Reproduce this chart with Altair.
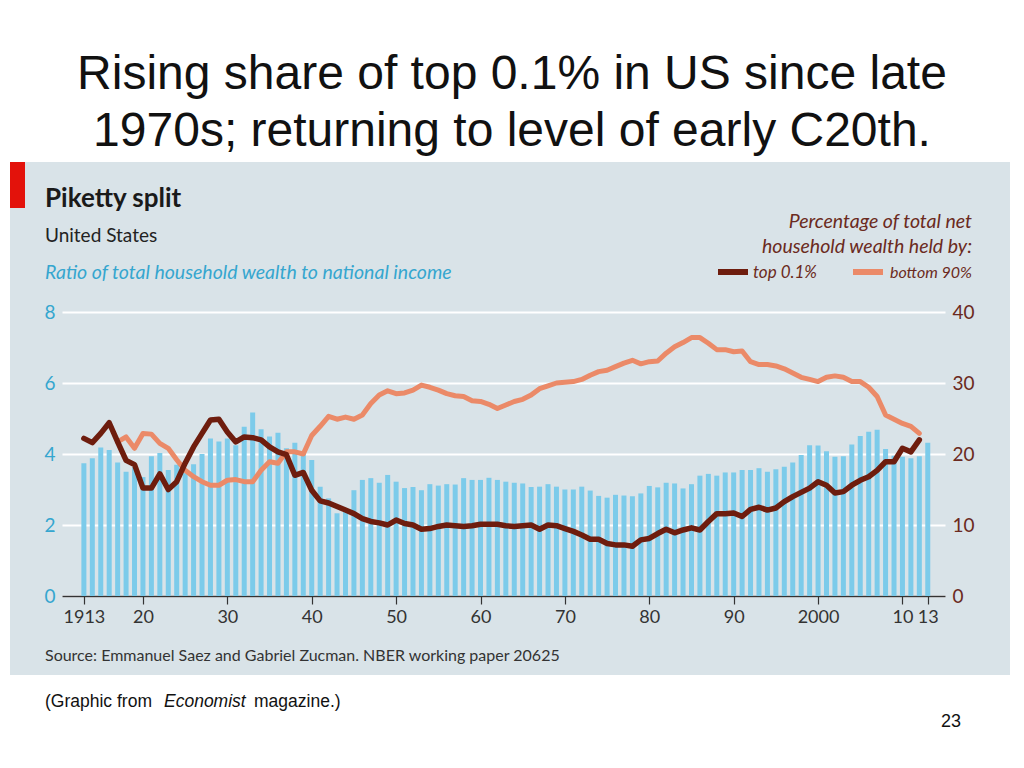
import altair as alt
import pandas as pd

# ---------------- data ----------------
years_bars = list(range(1913, 2014))
wealth_ratio = [
    3.74, 3.88, 4.18, 4.11, 3.76, 3.50, 3.62,
    3.35, 3.94, 4.03, 3.55, 3.70, 3.46, 3.71, 4.00, 4.44, 4.35,
    4.44, 4.25, 4.77, 5.17, 4.70, 4.49, 4.60, 4.16, 4.32, 4.02,
    3.83, 3.08, 2.75, 2.33, 2.40, 2.98, 3.27, 3.32, 3.19, 3.41,
    3.22, 3.04, 3.07, 2.98, 3.15, 3.11, 3.15, 3.14, 3.32, 3.27,
    3.27, 3.33, 3.27, 3.22, 3.19, 3.17, 3.07, 3.08, 3.15, 3.08,
    3.00, 3.00, 3.08, 2.97, 2.82, 2.77, 2.85, 2.83, 2.81, 2.89,
    3.10, 3.06, 3.19, 3.17, 3.03, 3.15, 3.39, 3.44, 3.39, 3.48,
    3.48, 3.55, 3.55, 3.60, 3.50, 3.57, 3.64, 3.76, 3.97, 4.25,
    4.24, 4.08, 3.92, 3.94, 4.27, 4.51, 4.63, 4.68, 4.14, 3.95,
    3.92, 3.88, 3.94, 4.32,
]

years_top = list(range(1913, 2013))
top_01 = [
    22.2, 21.6, 22.9, 24.4, 21.7, 19.1, 18.5,
    15.2, 15.2, 17.2, 15.0, 16.1, 18.7, 21.0, 22.9, 24.8, 24.9,
    23.1, 21.7, 22.4, 22.3, 22.0, 21.0, 20.3, 19.9, 17.0, 17.4,
    14.9, 13.4, 13.1, 12.6, 12.1, 11.6, 10.9, 10.5, 10.3, 10.0,
    10.7, 10.2, 10.0, 9.4, 9.5, 9.8, 10.0, 9.9, 9.8, 9.9,
    10.1, 10.1, 10.1, 9.9, 9.8, 9.9, 10.0, 9.4, 10.0, 9.9,
    9.5, 9.1, 8.6, 8.0, 8.0, 7.4, 7.2, 7.2, 7.0, 7.9,
    8.1, 8.8, 9.4, 8.9, 9.3, 9.6, 9.3, 10.5, 11.6, 11.6,
    11.7, 11.2, 12.2, 12.5, 12.1, 12.4, 13.3, 14.0, 14.6, 15.2,
    16.1, 15.6, 14.5, 14.7, 15.6, 16.3, 16.8, 17.7, 18.9, 18.9,
    20.8, 20.3, 22.0,
]

years_bottom = list(range(1917, 2013))
bottom_90 = [
    21.7, 22.4, 20.8,
    22.9, 22.8, 21.5, 20.8, 19.2, 17.7, 16.8, 16.1, 15.6, 15.6,
    16.3, 16.4, 16.1, 16.1, 17.7, 18.9, 18.7, 20.3, 20.3, 20.0,
    22.6, 23.9, 25.3, 24.9, 25.2, 24.9, 25.5, 27.1, 28.3, 28.9,
    28.5, 28.6, 29.0, 29.7, 29.4, 29.0, 28.5, 28.2, 28.1, 27.5,
    27.4, 27.0, 26.4, 26.9, 27.4, 27.7, 28.3, 29.2, 29.6, 30.0,
    30.1, 30.2, 30.5, 31.1, 31.6, 31.8, 32.3, 32.8, 33.2, 32.7,
    33.0, 33.1, 34.2, 35.1, 35.7, 36.4, 36.4, 35.6, 34.7, 34.7,
    34.4, 34.5, 33.0, 32.6, 32.6, 32.4, 32.0, 31.4, 30.8, 30.5,
    30.2, 30.8, 31.0, 30.8, 30.2, 30.2, 29.4, 28.1, 25.5, 24.9,
    24.3, 23.9, 22.9,
]

x_ticks = [1913, 1920, 1930, 1940, 1950, 1960, 1970, 1980, 1990, 2000, 2010, 2013]
left_ticks = [0, 2, 4, 6, 8]
right_ticks = [0, 10, 20, 30, 40]

# ---------------- styles ----------------
PANEL = "#d9e3e8"
BAR = "#7ccbea"
DARK = "#6e1d0e"
ORANGE = "#eb8a68"
CYAN = "#35a6cf"
BROWN = "#6b2a20"
ECON = "Lato"
SLIDE = "Liberation Sans"

bars_df = pd.DataFrame({"year": years_bars, "ratio": wealth_ratio})
top_df = pd.DataFrame({"year": years_top, "share": top_01})
bot_df = pd.DataFrame({"year": years_bottom, "share": bottom_90})
one = pd.DataFrame({"k": [0]})

x_enc = alt.X(
    "year:Q",
    scale=alt.Scale(domain=[1911.0, 2014.45], nice=False, zero=False),
    axis=alt.Axis(
        values=x_ticks, format="d", title=None, grid=False,
        labelExpr="datum.value == 1913 || datum.value == 2000 ? datum.label : slice(datum.label, 2)",
        labelOverlap=False, labelFlush=False,
        labelFont=ECON, labelFontSize=18, labelColor="#333333", labelPadding=4,
        tickColor="#333333", tickSize=8, tickWidth=1.2,
        domainColor="#333333", domainWidth=1.5,
    ),
)


def txt(s, x, y, size, color, font=ECON, weight="normal", style="normal", align="left"):
    return alt.Chart(one).mark_text(
        text=s, align=align, baseline="alphabetic", fontSize=size, font=font,
        fontWeight=weight, fontStyle=style, color=color,
    ).encode(x=alt.value(x), y=alt.value(y))


def box(x1, x2, y1, y2, color):
    return alt.Chart(one).mark_rect(color=color).encode(
        x=alt.value(x1), x2=alt.value(x2), y=alt.value(y1), y2=alt.value(y2)
    )


def swatch(x1, x2, y, color, w):
    return alt.Chart(one).mark_rule(color=color, strokeWidth=w).encode(
        x=alt.value(x1), x2=alt.value(x2), y=alt.value(y)
    )


# plot-area origin sits at page (62, 312)
white_top = box(-70, 970, -320, -150, "white")
white_bot = box(-70, 970, 363, 470, "white")
white_left = box(-70, -52, -150, 363, "white")
white_right = box(948, 970, -150, 363, "white")
red_tab = box(-52, -37, -150, -104, "#e3120b")

texts = [
    txt("Rising share of top 0.1% in US since late", 450, -223, 48, "#111111", SLIDE, align="center"),
    txt("1970s; returning to level of early C20th.", 450, -166, 48, "#111111", SLIDE, align="center"),
    txt("Piketty split", -17, -105, 26, "#1a1a1a", weight="bold"),
    txt("United States", -17, -70, 19, "#222222"),
    txt("Ratio of total household wealth to national income", -17, -33, 19.5, CYAN, style="italic"),
    txt("Percentage of total net", 910, -84, 19.5, BROWN, style="italic", align="right"),
    txt("household wealth held by:", 910, -59, 19.5, BROWN, style="italic", align="right"),
    txt("top 0.1%", 691, -34, 17, BROWN, style="italic"),
    txt("bottom 90%", 910, -34, 16, BROWN, style="italic", align="right"),
    txt("Source: Emmanuel Saez and Gabriel Zucman. NBER working paper 20625", -17, 349, 16, "#333333"),
    txt("(Graphic from", -17, 395, 17.5, "#111111", SLIDE),
    txt("Economist", 102, 395, 17.5, "#111111", SLIDE, style="italic"),
    txt("magazine.)", 192, 395, 17.5, "#111111", SLIDE),
    txt("23", 889, 415, 18, "#111111", SLIDE, align="center"),
]

bars = alt.Chart(bars_df).mark_bar(size=5, color=BAR).encode(
    x=x_enc,
    y=alt.Y(
        "ratio:Q",
        scale=alt.Scale(domain=[0, 8], nice=False),
        axis=alt.Axis(
            orient="left", values=left_ticks, title=None, grid=True, gridColor="white",
            gridWidth=2, ticks=False, domain=False, labelFont=ECON, labelFontSize=19,
            labelColor=CYAN, labelPadding=7,
        ),
    ),
)

y_right = alt.Y(
    "share:Q",
    scale=alt.Scale(domain=[0, 40], nice=False),
    axis=alt.Axis(
        orient="right", values=right_ticks, title=None, grid=False, ticks=False,
        domain=False, labelFont=ECON, labelFontSize=19, labelColor=BROWN, labelPadding=7,
    ),
)

line_bot = alt.Chart(bot_df).mark_line(
    color=ORANGE, strokeWidth=5, strokeJoin="round", strokeCap="round"
).encode(x=x_enc, y=y_right)
line_top = alt.Chart(top_df).mark_line(
    color=DARK, strokeWidth=5.5, strokeJoin="round", strokeCap="round"
).encode(x=x_enc, y=y_right)
lines = alt.layer(line_bot, line_top)

legend_marks = [
    swatch(656, 686, -40, DARK, 6),
    swatch(791, 821, -40, ORANGE, 6),
]

chart = alt.layer(
    white_top, white_bot, white_left, white_right, red_tab,
    *texts, bars, lines, *legend_marks,
).resolve_scale(y="independent").properties(
    width=883, height=284,
    autosize=alt.AutoSizeParams(type="none"),
    padding={"left": 54, "top": 304, "right": 71, "bottom": 160},
    background=PANEL,
).configure_view(stroke=None)

chart.save("out.html", embed_options={"renderer": "svg", "actions": False})
